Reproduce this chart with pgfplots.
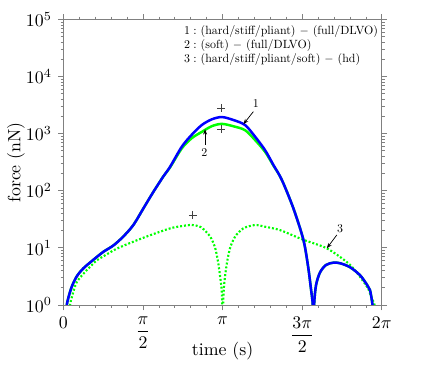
\documentclass[border=0pt]{standalone}
\usepackage{graphicx}
\usepackage{pgfplots}
\pgfplotsset{compat=1.18}
\usetikzlibrary{arrows.meta}

\definecolor{curveblue}{RGB}{0,0,255}
\definecolor{curvegreen}{RGB}{0,255,0}

\begin{document}
\begin{tikzpicture}
\useasboundingbox (-35.6pt,-43.3pt) rectangle (202.6pt,171.3pt);
\begin{axis}[
    scale only axis,
    width=178.9pt,
    height=160.4pt,
    ymode=log,
    xmin=0, xmax=6.2832,
    ymin=1, ymax=1e5,
    xtick={0,1.5708,3.1416,4.7124,6.2832},
    xticklabels={$0$,$\displaystyle\frac{\pi}{2}$,$\pi$,$\displaystyle\frac{3\pi}{2}$,$2\pi$},
    minor x tick num=4,
    ytick={1,10,100,1000,10000,100000},
    tick align=outside,
    major tick length=3pt,
    minor tick length=1.6pt,
    axis line style={gray},
    tick style={gray, thin},
    xlabel={time (s)},
    ylabel={force (nN)},
    x label style={at={(axis description cs:0.5,-0.163)}, anchor=center},
    y label style={at={(axis description cs:-0.149,0.5)}, anchor=center},
    clip=true,
]

% curve 2: (soft) - (full/DLVO)
\addplot[curvegreen, line width=1.4pt, smooth, tension=0.5] coordinates {
    (0.055,0.7) (0.067,1.0) (0.10,1.35) (0.166,2.09) (0.264,3.16) (0.395,4.37)
    (0.592,6.17) (0.789,8.51) (0.987,11.0) (1.184,15.8) (1.381,25.1) (1.579,49.0)
    (1.776,95.5) (1.973,178) (2.106,257) (2.336,550) (2.533,832) (2.731,1072)
    (2.928,1349) (3.126,1480) (3.349,1349) (3.585,1148) (3.78,776) (3.980,479)
    (4.145,275) (4.310,155) (4.539,49) (4.736,13.8) (4.829,4.68) (4.888,1.82)
    (4.921,1.0) (4.934,0.3)
};
\addplot[curvegreen, line width=1.4pt, smooth, tension=0.5] coordinates {
    (4.934,0.3) (4.947,1.0) (4.986,2.24) (5.065,3.72) (5.183,5.01) (5.328,5.50)
    (5.460,5.37) (5.657,4.57) (5.854,3.31) (5.993,2.24) (6.05,1.82) (6.10,1.0) (6.115,0.6)
};

% curve 3: (hard/stiff/pliant/soft) - (hd)
\addplot[curvegreen, line width=1.2pt, dash pattern=on 1.1pt off 1.1pt, smooth, tension=0.45] coordinates {
    (0.12,0.6) (0.132,1.0) (0.172,1.41) (0.264,2.51) (0.462,4.07) (0.659,6.03)
    (0.789,7.08) (1.020,9.33) (1.251,11.5) (1.646,15.8) (2.106,21.9) (2.336,24.0)
    (2.534,25.1) (2.717,22.9) (2.895,15.8) (2.994,10.0) (3.053,5.62) (3.092,3.16)
    (3.128,1.58) (3.142,0.3)
};
\addplot[curvegreen, line width=1.2pt, dash pattern=on 1.1pt off 1.1pt, smooth, tension=0.45] coordinates {
    (3.142,0.3) (3.160,1.58) (3.190,3.16) (3.230,5.62) (3.29,10.0) (3.39,15.8)
    (3.55,21.9) (3.78,25.1) (3.98,23.4) (4.276,20.4) (4.736,13.8) (5.20,9.77)
    (5.66,5.0) (5.99,2.09) (6.07,1.41) (6.14,1.0) (6.16,0.6)
};

% curve 1: (hard/stiff/pliant) - (full/DLVO)
\addplot[curveblue, line width=1.4pt, smooth, tension=0.5] coordinates {
    (0.055,0.7) (0.067,1.0) (0.10,1.35) (0.166,2.09) (0.264,3.16) (0.395,4.37)
    (0.592,6.17) (0.789,8.51) (0.987,11.0) (1.184,15.8) (1.381,25.1) (1.579,49.0)
    (1.776,95.5) (1.973,178) (2.106,263) (2.336,589) (2.533,955) (2.731,1413)
    (2.928,1778) (3.126,1950) (3.349,1738) (3.585,1413) (3.78,891) (3.980,513)
    (4.145,282) (4.310,155) (4.539,49) (4.736,13.8) (4.829,4.68) (4.888,1.82)
    (4.921,1.0) (4.934,0.3)
};
\addplot[curveblue, line width=1.4pt, smooth, tension=0.5] coordinates {
    (4.934,0.3) (4.947,1.0) (4.986,2.24) (5.065,3.72) (5.183,5.01) (5.328,5.50)
    (5.460,5.37) (5.657,4.57) (5.854,3.31) (5.993,2.24) (6.05,1.82) (6.10,1.0) (6.115,0.6)
};

% reference markers
\addplot[only marks, mark=+, mark size=2.2pt, black!75, thin] coordinates {
    (3.112,2770) (3.112,1200) (2.553,37.7)
};

% annotations
\draw[thin, -{Stealth[length=3pt,width=2.2pt]}] (axis cs:3.749,2428) -- (axis cs:3.552,1462);
\node at (axis cs:3.80,3300) {\scalebox{0.67}{1}};
\draw[thin, -{Stealth[length=3pt,width=2.2pt]}] (axis cs:2.796,633) -- (axis cs:2.796,1194);
\node at (axis cs:2.782,465) {\scalebox{0.67}{2}};
\draw[thin, -{Stealth[length=3pt,width=2.2pt]}] (axis cs:5.395,16.8) -- (axis cs:5.198,9.8);
\node at (axis cs:5.46,22) {\scalebox{0.67}{3}};

\node[anchor=north east, inner sep=1pt] at (rel axis cs:0.995,0.988) {%
    \scalebox{0.67}{\renewcommand\arraystretch{0.96}%
    \begin{tabular}{@{}l@{}}
    $1:$ (hard/stiff/pliant) $-$ (full/DLVO)\\
    $2:$ (soft) $-$ (full/DLVO)\\
    $3:$ (hard/stiff/pliant/soft) $-$ (hd)
    \end{tabular}}};

\end{axis}
\end{tikzpicture}
\end{document}
